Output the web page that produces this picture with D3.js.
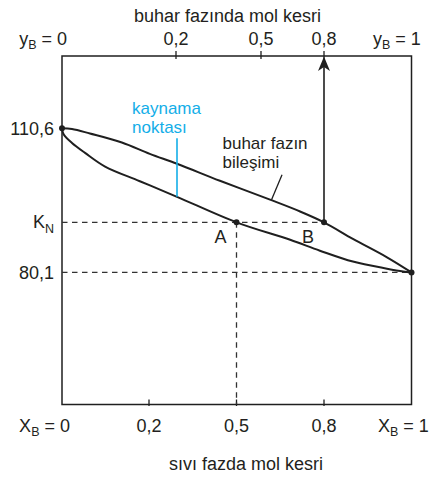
<!DOCTYPE html>
<html><head><meta charset="utf-8">
<script src="https://cdn.jsdelivr.net/npm/d3@7"></script>
<style>
body{margin:0;background:#fff}
text{font-family:"Liberation Sans",Arial,Helvetica,sans-serif;fill:#231f20}
</style>
</head><body>
<svg id="chart" width="429" height="480"></svg>
<script>
// Bubble-point (liquid) curve: mole fraction of B in the liquid vs temperature
const liquidX = [0, 0.004, 0.023, 0.053, 0.099, 0.179, 0.296, 0.5, 0.684, 0.786, 0.866, 0.944, 0.981, 1];
const liquidT = [110.6, 109.3, 107.5, 105.4, 102.5, 99.4, 96.1, 90.7, 87.0, 84.7, 82.4, 80.9, 80.3, 80.1];
// Dew-point (vapour) curve: mole fraction of B in the vapour vs temperature
const vaporY = [0, 0.0175, 0.049, 0.105, 0.154, 0.2035, 0.355, 0.543, 0.686, 0.8, 0.866, 0.944, 1];
const vaporT = [110.6, 110.45, 109.5, 107.6, 105.2, 103.1, 99.5, 95.5, 93.0, 90.7, 87.2, 83.3, 80.1];
// Axis ticks
const tickValues = [0.2, 0.5, 0.8];
const tickLabels = ["0,2", "0,5", "0,8"];
const tempValues = [110.6, 80.1];
const tempLabels = ["110,6", "80,1"];
// Boiling point K_N of the mixture, liquid point A and vapour point B
const boilT = 90.7;
const pointA = 0.5;
const pointB = 0.8;
// "kaynama noktası" marker on the liquid curve
const markX = 0.296, markTlow = 96.1, markTtop = 108.5;

const svg = d3.select("#chart");
const L = 62, R = 411.5, T = 56, B = 404.5;

// Schematic (evenly spaced) composition axes
const xLiq = d3.scaleLinear().domain([0, 0.2, 0.5, 0.8, 1]).range([L, 149, 236.5, 324, R]);
const xVap = d3.scaleLinear().domain([0, 0.2, 0.5, 0.8, 1]).range([L, 176, 261, 324, R]);
const y = d3.scaleLinear().domain([52.15, 125.9]).range([B, T]);

const ink = "#1f1f1f";

// frame
svg.append("rect").attr("x", L).attr("y", T).attr("width", R - L).attr("height", B - T)
  .attr("fill", "none").attr("stroke", ink).attr("stroke-width", 1.5);

// ticks
tickValues.forEach((v, i) => {
  svg.append("line").attr("x1", xVap(v)).attr("x2", xVap(v)).attr("y1", T - 5).attr("y2", T + 3)
    .attr("stroke", ink).attr("stroke-width", 1.3);
  svg.append("text").attr("x", xVap(v)).attr("y", 45).attr("text-anchor", "middle")
    .attr("font-size", 18).text(tickLabels[i]);
  svg.append("line").attr("x1", xLiq(v)).attr("x2", xLiq(v)).attr("y1", B - 5).attr("y2", B + 1.5)
    .attr("stroke", ink).attr("stroke-width", 1.3);
  svg.append("text").attr("x", xLiq(v)).attr("y", 432).attr("text-anchor", "middle")
    .attr("font-size", 18).text(tickLabels[i]);
});

// end labels with subscript
function subLabel(x, yy, anchor, main, sub, rest) {
  const t = svg.append("text").attr("x", x).attr("y", yy).attr("text-anchor", anchor).attr("font-size", 18);
  t.append("tspan").text(main);
  t.append("tspan").attr("font-size", 12.5).attr("dy", 4).text(sub);
  t.append("tspan").attr("dy", -4).text(rest);
}
subLabel(67, 45, "end", "y", "B", " = 0");
subLabel(373, 45, "start", "y", "B", " = 1");
subLabel(70, 432, "end", "X", "B", " = 0");
subLabel(378, 432, "start", "X", "B", " = 1");

// axis titles
svg.append("text").attr("x", 227.5).attr("y", 21.5).attr("text-anchor", "middle").attr("font-size", 18)
  .text("buhar fazında mol kesri");
svg.append("text").attr("x", 246).attr("y", 470).attr("text-anchor", "middle").attr("font-size", 18)
  .text("sıvı fazda mol kesri");

// temperature labels
tempValues.forEach((v, i) => {
  svg.append("text").attr("x", 54).attr("y", y(v) + 6.5).attr("text-anchor", "end")
    .attr("font-size", 18).text(tempLabels[i]);
});
{
  const t = svg.append("text").attr("x", 54).attr("y", y(boilT) + 5.5).attr("text-anchor", "end").attr("font-size", 18);
  t.append("tspan").text("K");
  t.append("tspan").attr("font-size", 12.5).attr("dy", 5).text("N");
}

// dashed guides
const dash = "5.5,4.5";
svg.append("line").attr("x1", L).attr("x2", xVap(pointB)).attr("y1", y(boilT)).attr("y2", y(boilT))
  .attr("stroke", "#333").attr("stroke-width", 1.3).attr("stroke-dasharray", dash);
svg.append("line").attr("x1", L).attr("x2", R).attr("y1", y(80.1)).attr("y2", y(80.1))
  .attr("stroke", "#333").attr("stroke-width", 1.3).attr("stroke-dasharray", dash);
svg.append("line").attr("x1", xLiq(pointA)).attr("x2", xLiq(pointA)).attr("y1", y(boilT)).attr("y2", B)
  .attr("stroke", "#333").attr("stroke-width", 1.3).attr("stroke-dasharray", dash);

// curves
const smooth = d3.curveCatmullRom.alpha(0.5);
const liqLine = d3.line().x(d => xLiq(d[0])).y(d => y(d[1])).curve(smooth);
const vapLine = d3.line().x(d => xVap(d[0])).y(d => y(d[1])).curve(smooth);
svg.append("path").attr("d", liqLine(d3.zip(liquidX, liquidT)))
  .attr("fill", "none").attr("stroke", ink).attr("stroke-width", 2);
svg.append("path").attr("d", vapLine(d3.zip(vaporY, vaporT)))
  .attr("fill", "none").attr("stroke", ink).attr("stroke-width", 2);

// arrow from B up to the vapour-composition axis
const bx = xVap(pointB);
svg.append("line").attr("x1", bx).attr("x2", bx).attr("y1", y(boilT)).attr("y2", T + 10)
  .attr("stroke", ink).attr("stroke-width", 1.6);
svg.append("path")
  .attr("d", `M${bx},${T + 0.5} L${bx - 6},${T + 15} L${bx},${T + 11} L${bx + 6},${T + 15} Z`)
  .attr("fill", ink);

// kaynama noktası marker
const blue = "#13aee8";
svg.append("line").attr("x1", xLiq(markX)).attr("x2", xLiq(markX)).attr("y1", y(markTtop)).attr("y2", y(markTlow))
  .attr("stroke", blue).attr("stroke-width", 1.6);
const kn = svg.append("text").attr("x", 132).attr("y", 113.5).attr("font-size", 17).style("fill", blue);
kn.append("tspan").attr("x", 132).text("kaynama");
kn.append("tspan").attr("x", 132).attr("dy", 19).text("noktası");

// vapour composition note
const ni = 7;
const nx = xVap(vaporY[ni]), ny = y(vaporT[ni]);
svg.append("line").attr("x1", nx + 1.5).attr("y1", ny).attr("x2", nx + 12).attr("y2", ny - 25)
  .attr("stroke", ink).attr("stroke-width", 1.3);
const bn = svg.append("text").attr("x", 222.5).attr("y", 148.5).attr("font-size", 17);
bn.append("tspan").attr("x", 222.5).text("buhar fazın");
bn.append("tspan").attr("x", 222.5).attr("dy", 19).text("bileşimi");

// A and B labels
svg.append("text").attr("x", xLiq(pointA) - 16).attr("y", y(boilT) + 21).attr("text-anchor", "middle")
  .attr("font-size", 18).text("A");
svg.append("text").attr("x", xVap(pointB) - 16).attr("y", y(boilT) + 21).attr("text-anchor", "middle")
  .attr("font-size", 18).text("B");

// end points and intersections
const dots = [[xLiq(0), y(110.6)], [xLiq(1), y(80.1)], [xLiq(pointA), y(boilT)], [xVap(pointB), y(boilT)]];
svg.selectAll("circle.pt").data(dots).join("circle").attr("class", "pt")
  .attr("cx", d => d[0]).attr("cy", d => d[1]).attr("r", 3).attr("fill", ink);
</script>
</body></html>
